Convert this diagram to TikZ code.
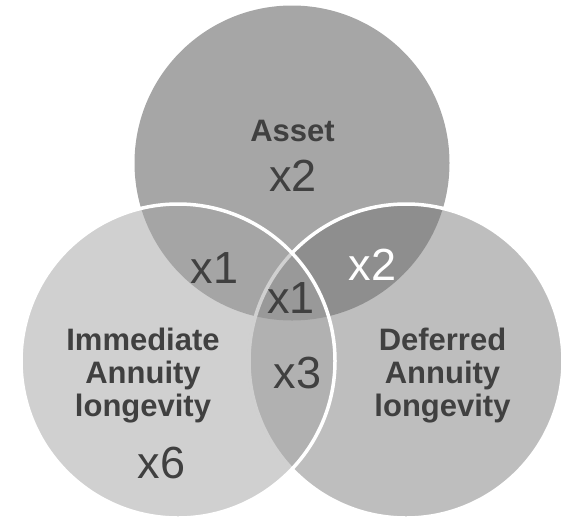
\documentclass[tikz,border=0pt]{standalone}
\usepackage{fontspec}
\setmainfont{Liberation Sans}
\definecolor{topgray}{gray}{0.651}
\definecolor{rightgray}{gray}{0.459}
\definecolor{leftgray}{gray}{0.647}
\definecolor{labgray}{HTML}{404040}
\begin{document}
\begin{tikzpicture}[x=1pt,y=-1pt,
  lab/.style={font=\bfseries\fontsize{31}{33}\selectfont, text=labgray, anchor=base, inner sep=0pt},
  num/.style={font=\fontsize{45}{48}\selectfont, text=labgray, anchor=base, inner sep=0pt},
  ring/.style={draw=white, line width=3.5pt}]
\useasboundingbox (0,0) rectangle (561,520);
\fill[topgray] (292,163) circle[radius=157.5];
\filldraw[ring, fill=rightgray, fill opacity=0.47] (406,361) circle[radius=157];
\filldraw[ring, fill=leftgray, fill opacity=0.52] (178,361) circle[radius=157];
% labels
\node[lab] (asset) at (292.5,141.7) {Asset};
\node[num] (nA) at (293,191.7) {x2};
\node[num] (nAL) at (214.7,283.3) {x1};
\node[num, text=white] (nAR) at (372.5,280.5) {x2};
\node[num] (nALR) at (290.8,313.3) {x1};
\node[num] (nLR) at (297.7,388.3) {x3};
\node[num] (nL) at (161.7,478) {x6};
\node[lab] (l1) at (143,350.7) {Immediate};
\node[lab] (l2) at (143,383) {Annuity};
\node[lab] (l3) at (143,416.5) {longevity};
\node[lab] (r1) at (442.5,350.7) {Deferred};
\node[lab] (r2) at (442.5,383) {Annuity};
\node[lab] (r3) at (442.5,416.5) {longevity};
\end{tikzpicture}
\end{document}
